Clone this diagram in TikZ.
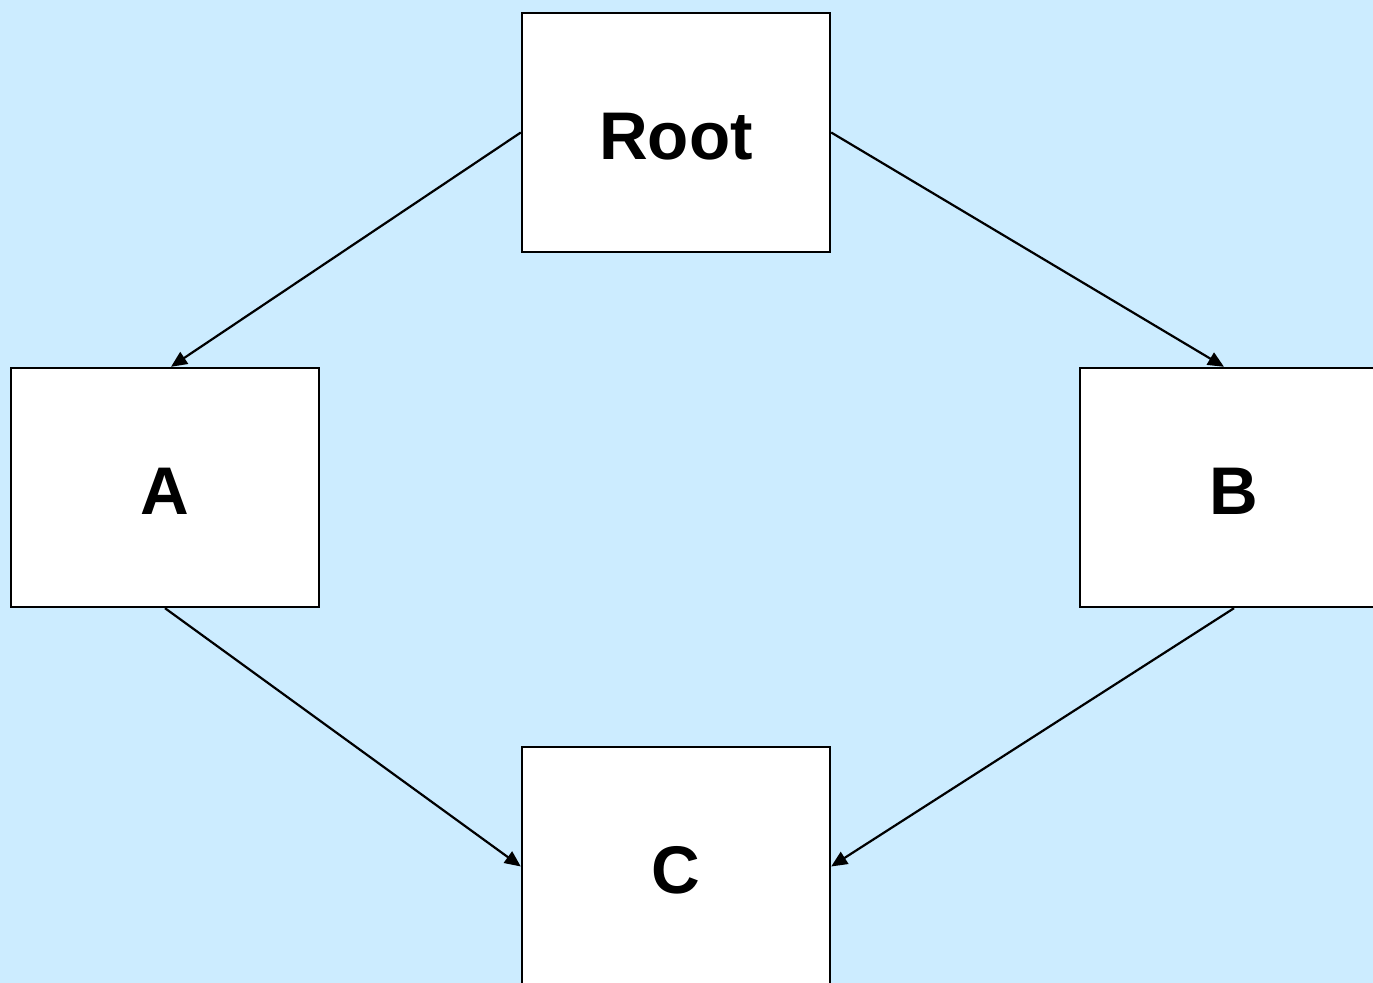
\documentclass[tikz,border=0pt]{standalone}
\usepackage{fontspec}
\setmainfont{Liberation Sans}
\usetikzlibrary{arrows.meta}
\definecolor{skyback}{HTML}{CCECFF}
\tikzset{
  box/.style={draw=black, fill=white, line width=1.2pt, minimum width=154pt,
    minimum height=119.5pt, inner sep=0pt, text height=27pt, text depth=0pt,
    font=\fontsize{33.7}{40}\selectfont\bfseries},
  link/.style={line width=1.1pt, -{Triangle[length=8pt,width=7pt]}}
}
\begin{document}
\begin{tikzpicture}[x=0.5pt, y=-0.5pt]
  \useasboundingbox (0,0) rectangle (1373,983);
  \clip (0,0) rectangle (1373,983);
  \fill[skyback] (0,0) rectangle (1373,983);
  \node[box] (root) at (676,132.5) {Root};
  \node[box] (a) at (165,487.5) {A};
  \node[box] (b) at (1234,487.5) {B};
  \node[box] (c) at (676,866.5) {C};
  \draw[link] (root.west) -- ([xshift=3pt]a.north);
  \draw[link] (root.east) -- ([xshift=-5pt]b.north);
  \draw[link] (a.south) -- (c.west);
  \draw[link] (b.south) -- (c.east);
\end{tikzpicture}
\end{document}
